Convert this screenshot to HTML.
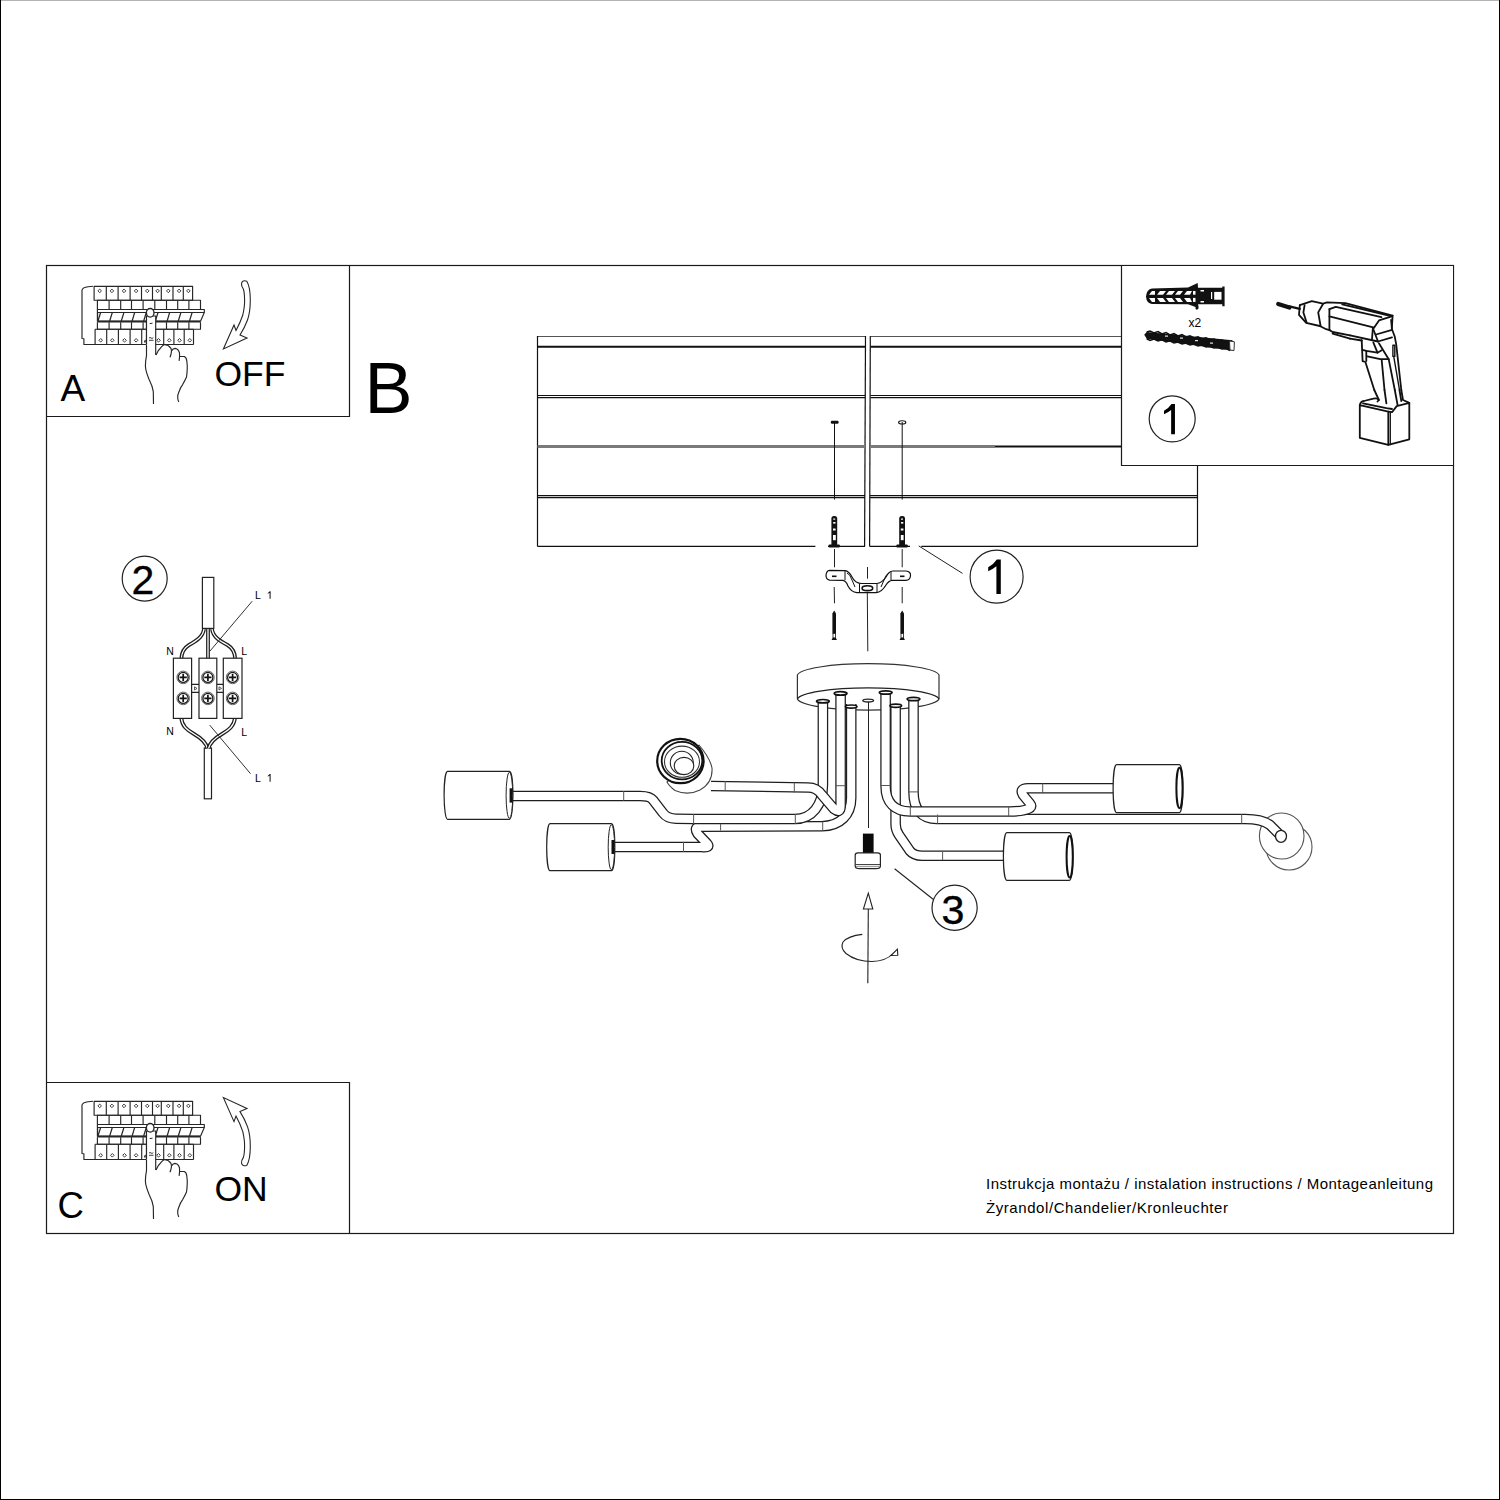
<!DOCTYPE html>
<html><head><meta charset="utf-8">
<style>
html,body{margin:0;padding:0;background:#fff;}
body{width:1500px;height:1500px;overflow:hidden;position:relative;}
svg{position:absolute;left:0;top:0;}
text{font-family:"Liberation Sans",sans-serif;fill:#000;}
</style></head>
<body>
<svg width="1500" height="1500" viewBox="0 0 1500 1500">
<!-- page border -->
<rect x="0" y="0" width="1500" height="1" fill="#b3b3b3"/>
<rect x="0" y="0" width="1" height="1500" fill="#000"/>
<rect x="1499" y="0" width="1" height="1500" fill="#000"/>
<rect x="0" y="1499" width="1500" height="1" fill="#000"/>

<g fill="none" stroke="#1a1a1a" stroke-width="1.2">
  <!-- main frame -->
  <rect x="46.5" y="265.5" width="1407" height="968"/>
  <!-- panel A -->
  <polyline points="349.5,265.5 349.5,416.5 46.5,416.5"/>
  <!-- panel C -->
  <polyline points="46.5,1082.5 349.5,1082.5 349.5,1233.5"/>
</g>

<!-- labels -->
<text x="60.5" y="401" font-size="37">A</text>
<text x="214.5" y="386.3" font-size="35.5">OFF</text>
<text x="57.5" y="1217.7" font-size="36.5">C</text>
<text x="214.5" y="1200.9" font-size="35.5">ON</text>
<text x="364.5" y="412.8" font-size="72">B</text>


<!-- ceiling plates -->
<g id="ceiling" fill="none" stroke="#111">
  <g stroke-width="1.2">
    <line x1="537.5" y1="336.5" x2="865.5" y2="336.5" stroke="#555"/>
    <line x1="870.5" y1="336.5" x2="1197.5" y2="336.5" stroke="#555"/>
    <line x1="537.5" y1="336" x2="537.5" y2="546.5"/>
    <line x1="865.5" y1="336" x2="864.6" y2="546.5"/>
    <line x1="870.3" y1="336" x2="869.6" y2="546.5"/>
    <line x1="1197.5" y1="336" x2="1197.5" y2="546.5"/>
    <line x1="537.5" y1="395.5" x2="865.5" y2="395.5"/><line x1="537.5" y1="397.6" x2="865.5" y2="397.6"/>
    <line x1="870.5" y1="395.5" x2="1197.5" y2="395.5"/><line x1="870.5" y1="397.6" x2="1197.5" y2="397.6"/>
    <line x1="537.5" y1="495.6" x2="865" y2="495.6"/><line x1="537.5" y1="497.6" x2="865" y2="497.6"/>
    <line x1="870" y1="495.6" x2="1197.5" y2="495.6"/><line x1="870" y1="497.6" x2="1197.5" y2="497.6"/>
    <polyline points="537.5,546.3 815.4,546.3"/><polyline points="828,546.3 865,546.3"/>
    <polyline points="869.8,546.3 910,546.3"/><polyline points="921.3,546.3 1197.5,546.3"/>
  </g>
  <line x1="537.5" y1="346.7" x2="865.5" y2="346.7" stroke-width="2"/>
  <line x1="870.5" y1="346.7" x2="1197.5" y2="346.7" stroke-width="2"/>
  <line x1="537.5" y1="446.5" x2="865" y2="446.5" stroke="#7a7a7a" stroke-width="2.8"/>
  <line x1="870" y1="446.5" x2="995" y2="446.5" stroke="#7a7a7a" stroke-width="2.8"/>
  <line x1="995" y1="446.5" x2="1197.5" y2="446.5" stroke-width="1.8"/>
  <!-- drill marks -->
  <line x1="834.5" y1="422" x2="834.5" y2="499.5" stroke-width="1"/>
  <line x1="902.2" y1="422" x2="902.2" y2="499.5" stroke-width="1"/>
  <rect x="830.8" y="420.8" width="7.8" height="3" rx="1.2" fill="#111" stroke="none"/>
  <ellipse cx="902.2" cy="422.4" rx="3.6" ry="1.6" stroke-width="1.1"/>
</g>
<!-- dowels -->
<g id="dowels">
  <g id="dowel">
    <rect x="831.4" y="516" width="5.8" height="31" rx="2.6" fill="#111"/>
    <rect x="828.5" y="544.6" width="11.5" height="2.8" rx="1.2" fill="#111"/>
    <rect x="833" y="535" width="2.8" height="5.2" fill="#fff"/>
    <rect x="833" y="528.5" width="2.6" height="2" fill="#fff"/>
    <rect x="833.2" y="522" width="2.3" height="1.6" fill="#fff"/>
    <rect x="833.2" y="518.5" width="2" height="1.2" fill="#fff"/>
  </g>
  <use href="#dowel" x="67.8"/>
</g>
<!-- dashed guide lines -->
<g stroke="#222" stroke-width="1" fill="none">
  <line x1="834.5" y1="549" x2="834.5" y2="567.3"/>
  <line x1="902.2" y1="549" x2="902.2" y2="567.3"/>
  <line x1="834.2" y1="587" x2="834.5" y2="603.3"/>
  <line x1="902.2" y1="587" x2="902.2" y2="603.3"/>
  <line x1="867.5" y1="567" x2="867.5" y2="578.7"/>
  <line x1="867.3" y1="593" x2="867.8" y2="651.3"/>
  <line x1="918.7" y1="545.9" x2="962.5" y2="573.4"/>
</g>
<!-- bracket -->
<g id="bracket" fill="#fff" stroke="#111" stroke-width="1.2" stroke-linejoin="round">
  <path d="M829.5,570.3 L845,570.6 Q849,571 852,577 Q855,583 861,583.5 L876.6,583.5 Q882,583 886,577 Q889,571 893,571 L906,571 Q911,571.5 910.5,576 Q910,580 906,580.3 L892,580.3 Q889,580.5 886,585 Q882,592 876,592.6 L857,592.6 Q851,592 848,586 Q846,580.5 843,580.3 L829.5,580.2 Q826,579.5 826,575.3 Q826.5,570.5 829.5,570.3 Z"/>
  <g fill="none" stroke-width="1">
    <line x1="845" y1="571" x2="845" y2="580"/>
    <line x1="891" y1="571" x2="891" y2="580"/>
    <line x1="859.5" y1="583.5" x2="859.5" y2="592.5"/>
    <line x1="877" y1="583.5" x2="877" y2="592.5"/>
    <path d="M847,573 Q850,574 852,580 L855,587"/>
    <path d="M889,573 Q886,574 884,580 L881,587"/>
  </g>
  <ellipse cx="867.4" cy="588.2" rx="5.3" ry="2.4" fill="none" stroke-width="1.6"/>
  <line x1="832" y1="576.3" x2="836.5" y2="576.3" stroke-width="1.6"/>
  <line x1="900" y1="576.3" x2="904.5" y2="576.3" stroke-width="1.6"/>
</g>
<!-- screws below bracket -->
<g id="scr" fill="#111">
  <path d="M834.2,610.5 L836,613.5 L836,633.5 L834.2,633.5 L832.4,633.5 L832.4,613.5 Z"/>
  <rect x="833" y="633.3" width="2.4" height="5" fill="none" stroke="#111" stroke-width="0.8"/>
  <path d="M831.5,640 L837,640 L835.5,637.5 L833,637.5 Z"/>
</g>
<use href="#scr" x="68"/>
<!-- circle 1 near plates -->
<circle cx="996.6" cy="576.7" r="26.5" fill="none" stroke="#222" stroke-width="1.2"/>
<path transform="translate(988.2,559.4) scale(34.6)" d="M0.364,0 L0.364,1 L0.237,1 L0.237,0.2 Q0.13,0.29 0,0.34 L0,0.225 Q0.15,0.15 0.25,0 Z" fill="#000"/>
<!-- panel 1 box -->
<path d="M1121.5,266 L1121.5,465.5 L1453,465.5 L1453,266 Z" fill="#fff" stroke="none"/>
<polyline points="1121.5,265.5 1121.5,465.5 1453.5,465.5" fill="none" stroke="#1a1a1a" stroke-width="1.2"/>
<circle cx="1172.2" cy="418.8" r="23" fill="none" stroke="#222" stroke-width="1.2"/>
<path transform="translate(1164,404.1) scale(30.1)" d="M0.364,0 L0.364,1 L0.237,1 L0.237,0.2 Q0.13,0.29 0,0.34 L0,0.225 Q0.15,0.15 0.25,0 Z" fill="#000"/>


<!-- chandelier -->
<g id="chandelier" fill="none" stroke-linejoin="round" stroke-linecap="butt">
  <!-- canopy -->
  <path d="M797.4,699 L797.4,675 A71,12.2 0 0 1 939,675 L939,699 A71,12 0 0 1 797.4,699 Z" fill="#fff" stroke="#333" stroke-width="1.2"/>
  <path d="M797.4,699 A71,12 0 0 1 939,699" stroke="#222" stroke-width="1.2"/>
  <ellipse cx="868.2" cy="700.6" rx="5.4" ry="1.4" stroke="#222" stroke-width="1.3"/>
  <line x1="868.5" y1="702" x2="868.5" y2="828" stroke="#222" stroke-width="1"/>
  <!-- right far socket disc (behind) -->
  <ellipse cx="1289" cy="847" rx="23" ry="23" fill="#fff" stroke="#555" stroke-width="1.1"/>
  <ellipse cx="1281.7" cy="836" rx="22.3" ry="23" fill="#fff" stroke="#555" stroke-width="1.1"/>
  <path d="M913.5,698 L913.5,792 C913.5,810 922,819 937,819 L1245,819 Q1262,819 1270,825 L1280,835" stroke="#1e1e1e" stroke-width="10.6"/><path d="M913.5,698 L913.5,792 C913.5,810 922,819 937,819 L1245,819 Q1262,819 1270,825 L1280,835" stroke="#fff" stroke-width="8.1"/>
  <ellipse cx="1281" cy="836.3" rx="5.5" ry="6" fill="#fff" stroke="#222" stroke-width="1.3"/>
  <path d="M895.6,704 L895.6,824 Q895.6,830 899,835 L910,851 Q914,855.7 922,855.7 L1005,855.7" stroke="#1e1e1e" stroke-width="10.6"/><path d="M895.6,704 L895.6,824 Q895.6,830 899,835 L910,851 Q914,855.7 922,855.7 L1005,855.7" stroke="#fff" stroke-width="8.1"/>
  <path d="M885.6,691 L885.6,786 C885.6,803 895,811.5 910,811.5 L1010,811.5 Q1024,811.5 1030,808 Q1032,806 1030,803.5 L1023,795 Q1019,788.3 1028,788.3 L1115,788.3" stroke="#1e1e1e" stroke-width="10.6"/><path d="M885.6,691 L885.6,786 C885.6,803 895,811.5 910,811.5 L1010,811.5 Q1024,811.5 1030,808 Q1032,806 1030,803.5 L1023,795 Q1019,788.3 1028,788.3 L1115,788.3" stroke="#fff" stroke-width="8.1"/>
  <path d="M851.2,704 L851.2,798 C851.2,815 840,826 822,826.2 L700,826.8 Q693.5,827 697.5,833.5 L707,843.5 Q711,848 702,847 L612,847" stroke="#1e1e1e" stroke-width="10.6"/><path d="M851.2,704 L851.2,798 C851.2,815 840,826 822,826.2 L700,826.8 Q693.5,827 697.5,833.5 L707,843.5 Q711,848 702,847 L612,847" stroke="#fff" stroke-width="8.1"/>
  <path d="M822.9,700 L822.9,785 C822.9,805 812,819 795,819 L693.6,819 L676,818.7 Q667,818.5 663,813 L653,800 Q650,796 640,796 L510,796" stroke="#1e1e1e" stroke-width="10.6"/><path d="M822.9,700 L822.9,785 C822.9,805 812,819 795,819 L693.6,819 L676,818.7 Q667,818.5 663,813 L653,800 Q650,796 640,796 L510,796" stroke="#fff" stroke-width="8.1"/>
  <!-- socket shade 2 -->
  <path d="M699,745 Q710,758 712,768 Q713,783 700,790 Q688,796 675,790.5 Q669,786 667,782 L680,770 Z" fill="#fff" stroke="#444" stroke-width="1.1"/>
  <path d="M840.6,692 L840.6,806 Q840.6,814 834,809 L822,795 Q817,787.5 808,787.5 L711,786" stroke="#1e1e1e" stroke-width="10.6"/><path d="M840.6,692 L840.6,806 Q840.6,814 834,809 L822,795 Q817,787.5 808,787.5 L711,786" stroke="#fff" stroke-width="8.1"/>
  <ellipse cx="680.4" cy="761" rx="23.2" ry="22.2" fill="#fff" stroke="#111" stroke-width="2.2"/>
  <ellipse cx="682" cy="760.6" rx="20.3" ry="18.8" stroke="#111" stroke-width="1.8"/>
  <ellipse cx="682" cy="761.7" rx="17.5" ry="15.6" stroke="#333" stroke-width="1.1"/>
  <ellipse cx="681.8" cy="762.7" rx="11.5" ry="11.5" stroke="#222" stroke-width="1.1"/>
  <ellipse cx="684" cy="766" rx="9.8" ry="8.6" fill="#fff" stroke="#222" stroke-width="1.1"/>
  <!-- caps on canopy -->
  <g fill="#fff" stroke="#111" stroke-width="1.7">
    <ellipse cx="822.9" cy="701.2" rx="6.4" ry="1.7"/>
    <ellipse cx="840.6" cy="693.4" rx="6.4" ry="1.7"/>
    <ellipse cx="851.2" cy="706.6" rx="5.8" ry="1.6"/>
    <ellipse cx="885.7" cy="692.5" rx="6.4" ry="1.7"/>
    <ellipse cx="895.8" cy="705.8" rx="5.8" ry="1.6"/>
    <ellipse cx="913.5" cy="699" rx="6.4" ry="1.7"/>
  </g>
  <!-- joints -->
  <g stroke="#555" stroke-width="1">
    <line x1="623.7" y1="791" x2="623.7" y2="800.8"/>
    <line x1="693.6" y1="814" x2="693.6" y2="824"/>
    <line x1="795.3" y1="814" x2="795.3" y2="824"/>
    <line x1="725.2" y1="781" x2="725.2" y2="790.6"/>
    <line x1="794.3" y1="782.5" x2="794.3" y2="792.5"/>
    <line x1="720.6" y1="823.8" x2="720.6" y2="830.5"/>
    <line x1="822.7" y1="821.7" x2="822.7" y2="830.5"/>
    <line x1="683.5" y1="842" x2="683.5" y2="852"/>
    <line x1="835.2" y1="785.7" x2="845.8" y2="785.7"/>
    <line x1="880.5" y1="785.5" x2="890.5" y2="785.5"/>
    <line x1="910.3" y1="806.5" x2="910.3" y2="816.5"/>
    <line x1="1008.7" y1="806.3" x2="1008.7" y2="816.5"/>
    <line x1="1042.7" y1="783.3" x2="1042.7" y2="793.3"/>
    <line x1="908.5" y1="791.9" x2="918.6" y2="791.9"/>
    <line x1="937.6" y1="814.5" x2="937.6" y2="823.8"/>
    <line x1="1241.7" y1="814.3" x2="1241.7" y2="823.8"/>
    <line x1="942.6" y1="851" x2="942.6" y2="860.3"/>
  </g>
  <!-- shades -->
  <g fill="#fff" stroke="#222" stroke-width="1.2">
    <path d="M447.5,771.3 L509.5,771.3 A3.4,24 0 0 1 509.5,819.3 L447.5,819.3 A3.4,24 0 0 1 447.5,771.3 Z"/>
    <ellipse cx="509.4" cy="795.3" rx="3.3" ry="23" stroke-width="1"/>
    <rect x="509.6" y="788.3" width="2.8" height="14.3" fill="#111" stroke="none"/>
    <path d="M550,823.7 L611.5,823.7 A3.3,23.5 0 0 1 611.5,870.7 L550,870.7 A3.3,23.5 0 0 1 550,823.7 Z"/>
    <ellipse cx="611.4" cy="847.2" rx="3.2" ry="22.5" stroke-width="1"/>
    <rect x="611.5" y="840" width="2.6" height="14" fill="#111" stroke="none"/>
    <path d="M1116.5,764.6 L1179.4,764.6 A3.4,24 0 0 1 1179.4,812.6 L1116.5,812.6 A3.4,24 0 0 1 1116.5,764.6 Z"/>
    <ellipse cx="1179.5" cy="788" rx="3.1" ry="20.2" stroke-width="2" stroke="#111"/>
    <path d="M1006.8,832.7 L1069.4,832.7 A3.4,23.8 0 0 1 1069.4,880.3 L1006.8,880.3 A3.4,23.8 0 0 1 1006.8,832.7 Z"/>
    <ellipse cx="1069.7" cy="856.8" rx="3.1" ry="20.8" stroke-width="2" stroke="#111"/>
  </g>
</g>


<!-- screw 3 & rotation -->
<g id="screw3">
  <rect x="862.9" y="833.6" width="10.7" height="19.5" fill="#0a0a0a"/>
  <path d="M855.2,855 Q855.2,852.9 858,852.9 L877.6,852.9 Q880.4,852.9 880.4,855 L880.4,866 Q880.4,868.7 876,868.7 L859.6,868.7 Q855.2,868.7 855.2,866 Z" fill="#fff" stroke="#222" stroke-width="1.2"/>
  <line x1="855.5" y1="864.6" x2="880" y2="864.6" stroke="#333" stroke-width="1"/>
  <line x1="856" y1="866.6" x2="879.6" y2="866.6" stroke="#777" stroke-width="0.8"/>
</g>
<g fill="none" stroke="#222" stroke-width="1.1">
  <line x1="894.6" y1="868.7" x2="933.1" y2="899.3"/>
  <circle cx="954.6" cy="907.8" r="22.6" stroke-width="1.2"/>
  <path d="M868.3,893.1 L863.4,909 L872.8,909 Z" fill="#fff"/>
  <line x1="868.3" y1="909" x2="867.8" y2="983.2"/>
  <path d="M862.3,934.4 Q848,936 843,942 Q840,948 846,953.5 Q856,961.5 872,961.5 Q886,961 892.5,954" />
  <path d="M897.4,949.2 L891,955.5 L897.8,955.3 Z" fill="#fff"/>
</g>
<text x="941.5" y="923.7" font-size="41.2" stroke="#000" stroke-width="0.4">3</text>

<g id="brk" fill="none" stroke="#262626" stroke-width="1.15" stroke-linejoin="round">
<path d="M93,286.3 L88.1,286.7 Q82.5,287.5 82,290 L82,338.5 L83.9,338.8 L83.9,344.5 L193.6,344.5" />
<path d="M94.1,300.2 L94.1,286.3 L192.6,286.3 L192.6,300.2 Z"/>
<line x1="106.3" y1="286.3" x2="106.3" y2="300.2"/>
<line x1="118.1" y1="286.3" x2="118.1" y2="300.2"/>
<line x1="130.1" y1="286.3" x2="130.1" y2="300.2"/>
<line x1="141.5" y1="286.3" x2="141.5" y2="300.2"/>
<line x1="152.5" y1="286.3" x2="152.5" y2="300.2"/>
<line x1="161.3" y1="286.3" x2="161.3" y2="300.2"/>
<line x1="173" y1="286.3" x2="173" y2="300.2"/>
<line x1="183.3" y1="286.3" x2="183.3" y2="300.2"/>
<path d="M99.7,289.1 L101.5,290.9 L99.7,292.7 L97.9,290.9 Z" stroke-width="0.9"/>
<path d="M111.9,289.1 L113.7,290.9 L111.9,292.7 L110.10000000000001,290.9 Z" stroke-width="0.9"/>
<path d="M124,289.1 L125.8,290.9 L124,292.7 L122.2,290.9 Z" stroke-width="0.9"/>
<path d="M136.1,289.1 L137.9,290.9 L136.1,292.7 L134.29999999999998,290.9 Z" stroke-width="0.9"/>
<path d="M147.3,289.1 L149.10000000000002,290.9 L147.3,292.7 L145.5,290.9 Z" stroke-width="0.9"/>
<path d="M157.6,289.1 L159.4,290.9 L157.6,292.7 L155.79999999999998,290.9 Z" stroke-width="0.9"/>
<path d="M168.3,289.1 L170.10000000000002,290.9 L168.3,292.7 L166.5,290.9 Z" stroke-width="0.9"/>
<path d="M179.1,289.1 L180.9,290.9 L179.1,292.7 L177.29999999999998,290.9 Z" stroke-width="0.9"/>
<path d="M188.4,289.1 L190.20000000000002,290.9 L188.4,292.7 L186.6,290.9 Z" stroke-width="0.9"/>
<path d="M97.4,309.5 L97.4,300.2 L200.5,300.2 L200.5,309.5"/>
<line x1="109.1" y1="300.2" x2="109.1" y2="309.5"/>
<line x1="120.7" y1="300.2" x2="120.7" y2="309.5"/>
<line x1="131.5" y1="300.2" x2="131.5" y2="309.5"/>
<line x1="143.1" y1="300.2" x2="143.1" y2="309.5"/>
<line x1="154.8" y1="300.2" x2="154.8" y2="309.5"/>
<line x1="166.5" y1="300.2" x2="166.5" y2="309.5"/>
<line x1="177.7" y1="300.2" x2="177.7" y2="309.5"/>
<line x1="188.9" y1="300.2" x2="188.9" y2="309.5"/>
<path d="M97.4,309.5 L204.3,309.5 L204.3,312.5 L200.5,321.2 L97.4,321.2 Z" fill="#fff"/>
<line x1="97.4" y1="312.5" x2="204.3" y2="312.5"/>
<line x1="97.4" y1="321.5" x2="200.5" y2="321.5" stroke-width="2.2"/>
<line x1="98.0" y1="321" x2="100.60000000000001" y2="312.5" stroke-width="1.2"/>
<line x1="109.69999999999999" y1="321" x2="112.3" y2="312.5" stroke-width="1.2"/>
<line x1="121.3" y1="321" x2="123.9" y2="312.5" stroke-width="1.2"/>
<line x1="132.1" y1="321" x2="134.7" y2="312.5" stroke-width="1.2"/>
<line x1="143.7" y1="321" x2="146.29999999999998" y2="312.5" stroke-width="1.2"/>
<line x1="155.4" y1="321" x2="158.0" y2="312.5" stroke-width="1.2"/>
<line x1="167.1" y1="321" x2="169.7" y2="312.5" stroke-width="1.2"/>
<line x1="178.29999999999998" y1="321" x2="180.89999999999998" y2="312.5" stroke-width="1.2"/>
<line x1="189.5" y1="321" x2="192.1" y2="312.5" stroke-width="1.2"/>
<line x1="97.6" y1="312.5" x2="97.6" y2="321"/>
<path d="M97.4,322.2 L97.4,329.2 L200.5,329.2 L200.5,322.2"/>
<line x1="109.1" y1="322.2" x2="109.1" y2="329.2"/>
<line x1="120.7" y1="322.2" x2="120.7" y2="329.2"/>
<line x1="131.5" y1="322.2" x2="131.5" y2="329.2"/>
<line x1="143.1" y1="322.2" x2="143.1" y2="329.2"/>
<line x1="154.8" y1="322.2" x2="154.8" y2="329.2"/>
<line x1="166.5" y1="322.2" x2="166.5" y2="329.2"/>
<line x1="177.7" y1="322.2" x2="177.7" y2="329.2"/>
<line x1="188.9" y1="322.2" x2="188.9" y2="329.2"/>
<path d="M95.1,329.2 L95.1,344.5 M193.5,329.2 L193.5,344.5 M95.1,329.2 L193.5,329.2"/>
<line x1="106.7" y1="329.2" x2="106.7" y2="344.5"/>
<line x1="118.4" y1="329.2" x2="118.4" y2="344.5"/>
<line x1="130.1" y1="329.2" x2="130.1" y2="344.5"/>
<line x1="141.7" y1="329.2" x2="141.7" y2="344.5"/>
<line x1="153" y1="329.2" x2="153" y2="344.5"/>
<line x1="163.7" y1="329.2" x2="163.7" y2="344.5"/>
<line x1="173.9" y1="329.2" x2="173.9" y2="344.5"/>
<line x1="184.2" y1="329.2" x2="184.2" y2="344.5"/>
<path d="M100.7,338.5 L102.5,340.3 L100.7,342.1 L98.9,340.3 Z" stroke-width="0.9"/>
<path d="M112.3,338.5 L114.1,340.3 L112.3,342.1 L110.5,340.3 Z" stroke-width="0.9"/>
<path d="M124.5,338.5 L126.3,340.3 L124.5,342.1 L122.7,340.3 Z" stroke-width="0.9"/>
<path d="M136.1,338.5 L137.9,340.3 L136.1,342.1 L134.29999999999998,340.3 Z" stroke-width="0.9"/>
<path d="M147.3,338.5 L149.10000000000002,340.3 L147.3,342.1 L145.5,340.3 Z" stroke-width="0.9"/>
<path d="M158.5,338.5 L160.3,340.3 L158.5,342.1 L156.7,340.3 Z" stroke-width="0.9"/>
<path d="M169.3,338.5 L171.10000000000002,340.3 L169.3,342.1 L167.5,340.3 Z" stroke-width="0.9"/>
<path d="M179.5,338.5 L181.3,340.3 L179.5,342.1 L177.7,340.3 Z" stroke-width="0.9"/>
<path d="M189.8,338.5 L191.60000000000002,340.3 L189.8,342.1 L188.0,340.3 Z" stroke-width="0.9"/>
<path d="M146.5,316 L146.5,355.7 Q145.3,362 145.4,366 Q145.6,371 149,379.2 Q152.5,386 153.3,391.6 L153.5,404.1" fill="none"/>
<path d="M146.5,344.6 L146.5,316 L155.7,316 L155.7,355" fill="#fff"/>
<path d="M156,355 Q158,350 160.8,347.7 Q163,344.7 164.5,344.7 Q168,344.5 171,348.4 Q172.3,351 170,357.2" />
<path d="M171.8,350.6 Q173,348.4 175,348.4 Q178,348.6 179.5,352.8 Q179.8,357 179.1,360.9" />
<path d="M179.9,356.5 L184.3,356.5 Q186.5,357.5 186.8,361 Q187.5,366 187.2,369.6 Q187,374 186.5,377 Q185,380.5 182.8,384.3 Q180,388 179.1,391.6 Q177.5,395 177.7,397.5 Q177.8,400 178.8,401.9" />
<ellipse cx="150.2" cy="312.8" rx="3.8" ry="4.3" fill="#fff" stroke-width="1.3"/>
<line x1="149.7" y1="323.6" x2="152.5" y2="323.2" stroke-width="1"/>
<path d="M149,338 Q150,337 151,338 Q152,339 153.3,337.7 M149,340.3 L153.5,340.3" stroke-width="0.9"/>
<line x1="144.9" y1="340.5" x2="144.9" y2="342.5" stroke-width="1.6"/>
</g>
<path id="arrA" d="M241.5,283.5 Q242.5,279.8 246.8,281.2 Q250.3,287 250.3,300 Q250.3,312 247.5,320 Q244.5,328 240,335 L247,338 L223.4,349 L234,325 L236,330.5 Q240.5,322 242.8,315 Q244.8,306 244.6,300 Q244.5,292 243.3,289 Q241.2,286 241.5,283.5 Z" fill="#fff" stroke="#262626" stroke-width="1.1" stroke-linejoin="miter"/>
<use href="#brk" y="815"/>
<use href="#arrA" transform="translate(0,1446.6) scale(1,-1)"/>
<g id="drill" fill="none" stroke="#111" stroke-width="1.8" stroke-linejoin="round" stroke-linecap="round">
<polyline points="1278.2,304.0 1289.4,307.6" stroke-width="4.2"/>
<polyline points="1289.4,306.4 1299.8,308.8" stroke-width="2.4"/>
<polyline points="1299.8,305.2 1299.0,314.8 1306.2,322.8 1319.8,326.0 1326.2,329.2 1330.2,330.4"/>
<polyline points="1299.8,305.2 1311.8,301.2 1323.0,303.6 1327.0,302.4 1345.4,303.2 1392.6,315.6"/>
<polyline points="1304.6,305.2 1303.4,312.4 1306.6,322.4"/>
<polyline points="1323.0,304.0 1318.2,312.4 1320.6,326.0"/>
<polyline points="1329.4,309.2 1329.4,330.0 1332.6,332.0 1350,335.4"/>
<polyline points="1332.6,333.6 1350,338.7"/>
<polyline points="1329.4,309.2 1335.8,306.8 1381.4,317.2"/>
<polyline points="1342.2,304.4 1391.0,316.0"/>
<polyline points="1329.4,316.4 1374.2,327.6"/>
<polyline points="1374.2,327.6 1379.0,320.4 1391.8,316.4"/>
<polyline points="1392.6,315.6 1391.8,328.4"/>
<polyline points="1350.0,335.4 1378.0,341.5 1392.0,337.3"/>
<polyline points="1350.0,338.7 1361.7,340.5"/>
<polyline points="1372.9,327.9 1371.9,340.1"/>
<polyline points="1391.1,320.0 1392.0,329.3 1394.8,336.8 1396.2,344.3 1401.3,390.0"/>
<polyline points="1376.1,334.5 1392.0,329.8"/>
<polyline points="1373.3,329.3 1378.0,341.5"/>
<polyline points="1373.3,342.4 1377.5,352.7 1381.7,350.3"/>
<polyline points="1361.7,340.1 1362.6,361.1 1365.4,362.0 1374.3,390.0"/>
<polyline points="1362.6,349.9 1366.3,350.8 1377.5,352.7"/>
<polyline points="1366.3,350.8 1366.3,361.1"/>
<polyline points="1367.3,356.4 1380.3,359.2 1388.7,359.2"/>
<polyline points="1378.9,343.3 1388.7,359.2 1394.8,390.0"/>
<polyline points="1381.7,360.1 1384.5,390.0"/>
<polygon points="1392.9,345.2 1394.8,345.2 1394.8,356.4 1392.9,356.4" stroke-width="1.4"/>
<polyline points="1393.9,357.3 1399.5,390.0" stroke-width="1.4"/>
<polyline points="1374.3,390 1378.9,400 1377.5,401.5"/>
<polyline points="1384.5,390 1386.4,403.3"/>
<polyline points="1394.8,390 1397.6,405.2"/>
<polyline points="1399.5,390 1401.3,401"/>
<polyline points="1401.3,390 1403,400 1409.3,402.9"/>
<polygon points="1359.8,405.2 1359.8,437.9 1388.3,444.9 1388.3,411.7"/>
<polyline points="1388.3,411.7 1392,412.2 1396.7,406.1 1409.3,402.9 1409.3,439.3 1388.3,444.9"/>
<line x1="1390.3" y1="412" x2="1390.3" y2="444.5" stroke-width="1.3"/>
<path d="M1359.8,405.2 Q1360.5,401.5 1364,401 L1373.3,398.7 Q1377,397.5 1378.9,400"/>
<polyline points="1363,403.3 1386.4,408.2 1392,409"/>
</g>
<g id="anchor">
  <path d="M1146,296.5 Q1146.5,289.5 1152,288.6 L1188,287.5 L1197.7,283.1 L1198,287.8 L1222.3,287.8 L1222.3,286.4 L1224.6,286.4 L1224.6,306.2 L1222.3,306.2 L1222.3,304.3 L1198,304.3 Q1199.5,309 1197.3,309.6 Q1195,310 1195.5,307 L1188,304.2 L1152,304 Q1146.5,303.5 1146,296.5 Z" fill="#111"/>
  <g fill="#fff">
    <rect x="1214.2" y="291.9" width="7.3" height="7.8"/>
    <rect x="1200.5" y="290" width="3.5" height="1.5"/>
    <rect x="1200.5" y="301" width="3.5" height="1.5"/>
    <rect x="1211" y="292" width="1.2" height="7"/>
    <path d="M1149,294.7 L1152,291 L1155,291 L1155,294.7 Z"/>
    <path d="M1157,294.7 L1160,291 L1166,291 L1163,294.7 Z"/>
    <path d="M1166,294.7 L1169,291 L1175,291 L1172,294.7 Z"/>
    <path d="M1175,294.7 L1178,291 L1183,291 L1180,294.7 Z"/>
    <path d="M1184,294.7 L1187,291 L1192,291 L1190,294.7 Z"/>
    <rect x="1193" y="291" width="2.5" height="3.7"/>
    <path d="M1149,297.9 L1155,297.9 L1155,302 L1152,302 Z"/>
    <path d="M1157,297.9 L1163,297.9 L1166,302 L1160,302 Z"/>
    <path d="M1166,297.9 L1172,297.9 L1175,302 L1169,302 Z"/>
    <path d="M1175,297.9 L1180,297.9 L1183,302 L1178,302 Z"/>
    <path d="M1184,297.9 L1190,297.9 L1192,302 L1187,302 Z"/>
    <rect x="1193" y="297.9" width="2.5" height="4"/>
  </g>
</g>
<g id="woodscrew">
  <path d="M1144.2,334.8 L1146.7,332 L1232.5,340.2 L1232.5,350.5 L1146.7,338.8 Z" fill="#111"/>
  <path d="M1146.7,332 L1150,331 L1154,333 L1158,331.6 L1162,334 L1166,332.6 L1170,335 L1174,333.7 L1178,336 L1182,334.7 L1186,337 L1190,335.8 L1194,338 L1198,336.8 L1202,339 L1206,337.8 L1210,340 L1214,339 L1218,341 L1222,340 L1226,342 L1230,341 L1232.5,342" fill="none" stroke="#111" stroke-width="1.6"/>
  <path d="M1146.7,338.8 L1150,340.5 L1154,339 L1158,341 L1162,339.8 L1166,342 L1170,340.8 L1174,343 L1178,342 L1182,344 L1186,343 L1190,345 L1194,344 L1198,346 L1202,345 L1206,347 L1210,346.4 L1214,348 L1218,347.4 L1222,349 L1226,348.5 L1230,350.5" fill="none" stroke="#111" stroke-width="1.6"/>
  <path d="M1229.5,341 L1234.4,341.8 L1234,350.5 L1230,350 Z" fill="#fff" stroke="#333" stroke-width="1"/>
  <g fill="#fff" opacity="0.9">
    <rect x="1165" y="335.5" width="3" height="1.2"/><rect x="1180" y="337.5" width="3" height="1.2"/>
    <rect x="1195" y="340" width="3" height="1.2"/><rect x="1210" y="342.5" width="3" height="1.2"/>
  </g>
</g>
<text x="1188.5" y="326.7" font-size="12">x2</text>

<g id="wiring">
<circle cx="144.7" cy="578.6" r="22.5" fill="none" stroke="#222" stroke-width="1.2"/>
<text x="131.5" y="594.2" font-size="41" stroke="#000" stroke-width="0.3">2</text>
<rect x="202.4" y="577.4" width="11.4" height="51" fill="#fff" stroke="#222" stroke-width="1.2"/>
<rect x="204.3" y="748" width="7.2" height="50.8" fill="#fff" stroke="#222" stroke-width="1.2"/>
<path d="M204,629 C203,637 196,641 189,645 C184,648 181.5,652 181.3,659" fill="none" stroke="#1e1e1e" stroke-width="3.8"/><path d="M204,629 C203,637 196,641 189,645 C184,648 181.5,652 181.3,659" fill="none" stroke="#fff" stroke-width="1.3"/>
<path d="M212,629 C213,637 220,641 227.5,645 C232.5,648 235,652 235.2,659" fill="none" stroke="#1e1e1e" stroke-width="3.8"/><path d="M212,629 C213,637 220,641 227.5,645 C232.5,648 235,652 235.2,659" fill="none" stroke="#fff" stroke-width="1.3"/>
<path d="M208,629 L208,659" fill="none" stroke="#1e1e1e" stroke-width="3.8"/><path d="M208,629 L208,659" fill="none" stroke="#fff" stroke-width="1.3"/>
<path d="M181.3,718 C182,726 187,730 194,734 C201,738 206,742 207.5,748.5" fill="none" stroke="#1e1e1e" stroke-width="3.8"/><path d="M181.3,718 C182,726 187,730 194,734 C201,738 206,742 207.5,748.5" fill="none" stroke="#fff" stroke-width="1.3"/>
<path d="M235,718 C234,726 229,730 222,734 C215,738 210,742 208.5,748.5" fill="none" stroke="#1e1e1e" stroke-width="3.8"/><path d="M235,718 C234,726 229,730 222,734 C215,738 210,742 208.5,748.5" fill="none" stroke="#fff" stroke-width="1.3"/>
<g fill="#fff" stroke="#222" stroke-width="1.2">
<path d="M191.6,684.4 L199,684.4 M191.6,692.3 L199,692.3 M216.8,684.4 L223.3,684.4 M216.8,692.3 L223.3,692.3" fill="none"/>
<rect x="173.4" y="658.2" width="18.2" height="60.2"/>
<rect x="199" y="658.2" width="17.8" height="60.2"/>
<rect x="223.3" y="658.2" width="18.7" height="60.2"/>
</g>
<path d="M194.5,686.8 L197,688.4 L194.5,690 Z M219,686.8 L221.5,688.4 L219,690 Z" fill="none" stroke="#333" stroke-width="0.8"/>
<circle cx="183.2" cy="677.4" r="6.3" fill="none" stroke="#555" stroke-width="0.9"/>
<circle cx="183.2" cy="677.4" r="5" fill="none" stroke="#1a1a1a" stroke-width="1.3"/>
<path d="M179.6,677.4 L186.79999999999998,677.4 M183.2,673.8 L183.2,681.0" stroke="#111" stroke-width="1.7"/>
<circle cx="183.2" cy="698.4" r="6.3" fill="none" stroke="#555" stroke-width="0.9"/>
<circle cx="183.2" cy="698.4" r="5" fill="none" stroke="#1a1a1a" stroke-width="1.3"/>
<path d="M179.6,698.4 L186.79999999999998,698.4 M183.2,694.8 L183.2,702.0" stroke="#111" stroke-width="1.7"/>
<circle cx="207.9" cy="677.4" r="6.3" fill="none" stroke="#555" stroke-width="0.9"/>
<circle cx="207.9" cy="677.4" r="5" fill="none" stroke="#1a1a1a" stroke-width="1.3"/>
<path d="M204.3,677.4 L211.5,677.4 M207.9,673.8 L207.9,681.0" stroke="#111" stroke-width="1.7"/>
<circle cx="207.9" cy="698.4" r="6.3" fill="none" stroke="#555" stroke-width="0.9"/>
<circle cx="207.9" cy="698.4" r="5" fill="none" stroke="#1a1a1a" stroke-width="1.3"/>
<path d="M204.3,698.4 L211.5,698.4 M207.9,694.8 L207.9,702.0" stroke="#111" stroke-width="1.7"/>
<circle cx="232.6" cy="677.4" r="6.3" fill="none" stroke="#555" stroke-width="0.9"/>
<circle cx="232.6" cy="677.4" r="5" fill="none" stroke="#1a1a1a" stroke-width="1.3"/>
<path d="M229.0,677.4 L236.2,677.4 M232.6,673.8 L232.6,681.0" stroke="#111" stroke-width="1.7"/>
<circle cx="232.6" cy="698.4" r="6.3" fill="none" stroke="#555" stroke-width="0.9"/>
<circle cx="232.6" cy="698.4" r="5" fill="none" stroke="#1a1a1a" stroke-width="1.3"/>
<path d="M229.0,698.4 L236.2,698.4 M232.6,694.8 L232.6,702.0" stroke="#111" stroke-width="1.7"/>
<g font-size="10.5">
<text x="166.2" y="654.6">N</text><text x="241.2" y="655.2">L</text>
<text x="166.2" y="734.7">N</text><text x="241.2" y="736.4">L</text>
<text x="255" y="598.6">L</text><text x="255" y="781.5">L</text></g><g fill="#000"><path transform="translate(267.8,591.2) scale(7.6)" d="M0.364,0 L0.364,1 L0.237,1 L0.237,0.2 Q0.13,0.29 0,0.34 L0,0.225 Q0.15,0.15 0.25,0 Z"/><path transform="translate(267.8,774.1) scale(7.6)" d="M0.364,0 L0.364,1 L0.237,1 L0.237,0.2 Q0.13,0.29 0,0.34 L0,0.225 Q0.15,0.15 0.25,0 Z"/>
</g>
<line x1="252.2" y1="601.2" x2="209.7" y2="651.4" stroke="#333" stroke-width="1"/>
<line x1="209.7" y1="725.1" x2="250.5" y2="773.7" stroke="#333" stroke-width="1"/>
</g>
<text x="986" y="1189" font-size="15" textLength="447" lengthAdjust="spacing">Instrukcja montażu / instalation instructions / Montageanleitung</text>
<text x="986" y="1213.3" font-size="15" textLength="242" lengthAdjust="spacing">Żyrandol/Chandelier/Kronleuchter</text>

<g id="art"></g>
</svg>
</body></html>
